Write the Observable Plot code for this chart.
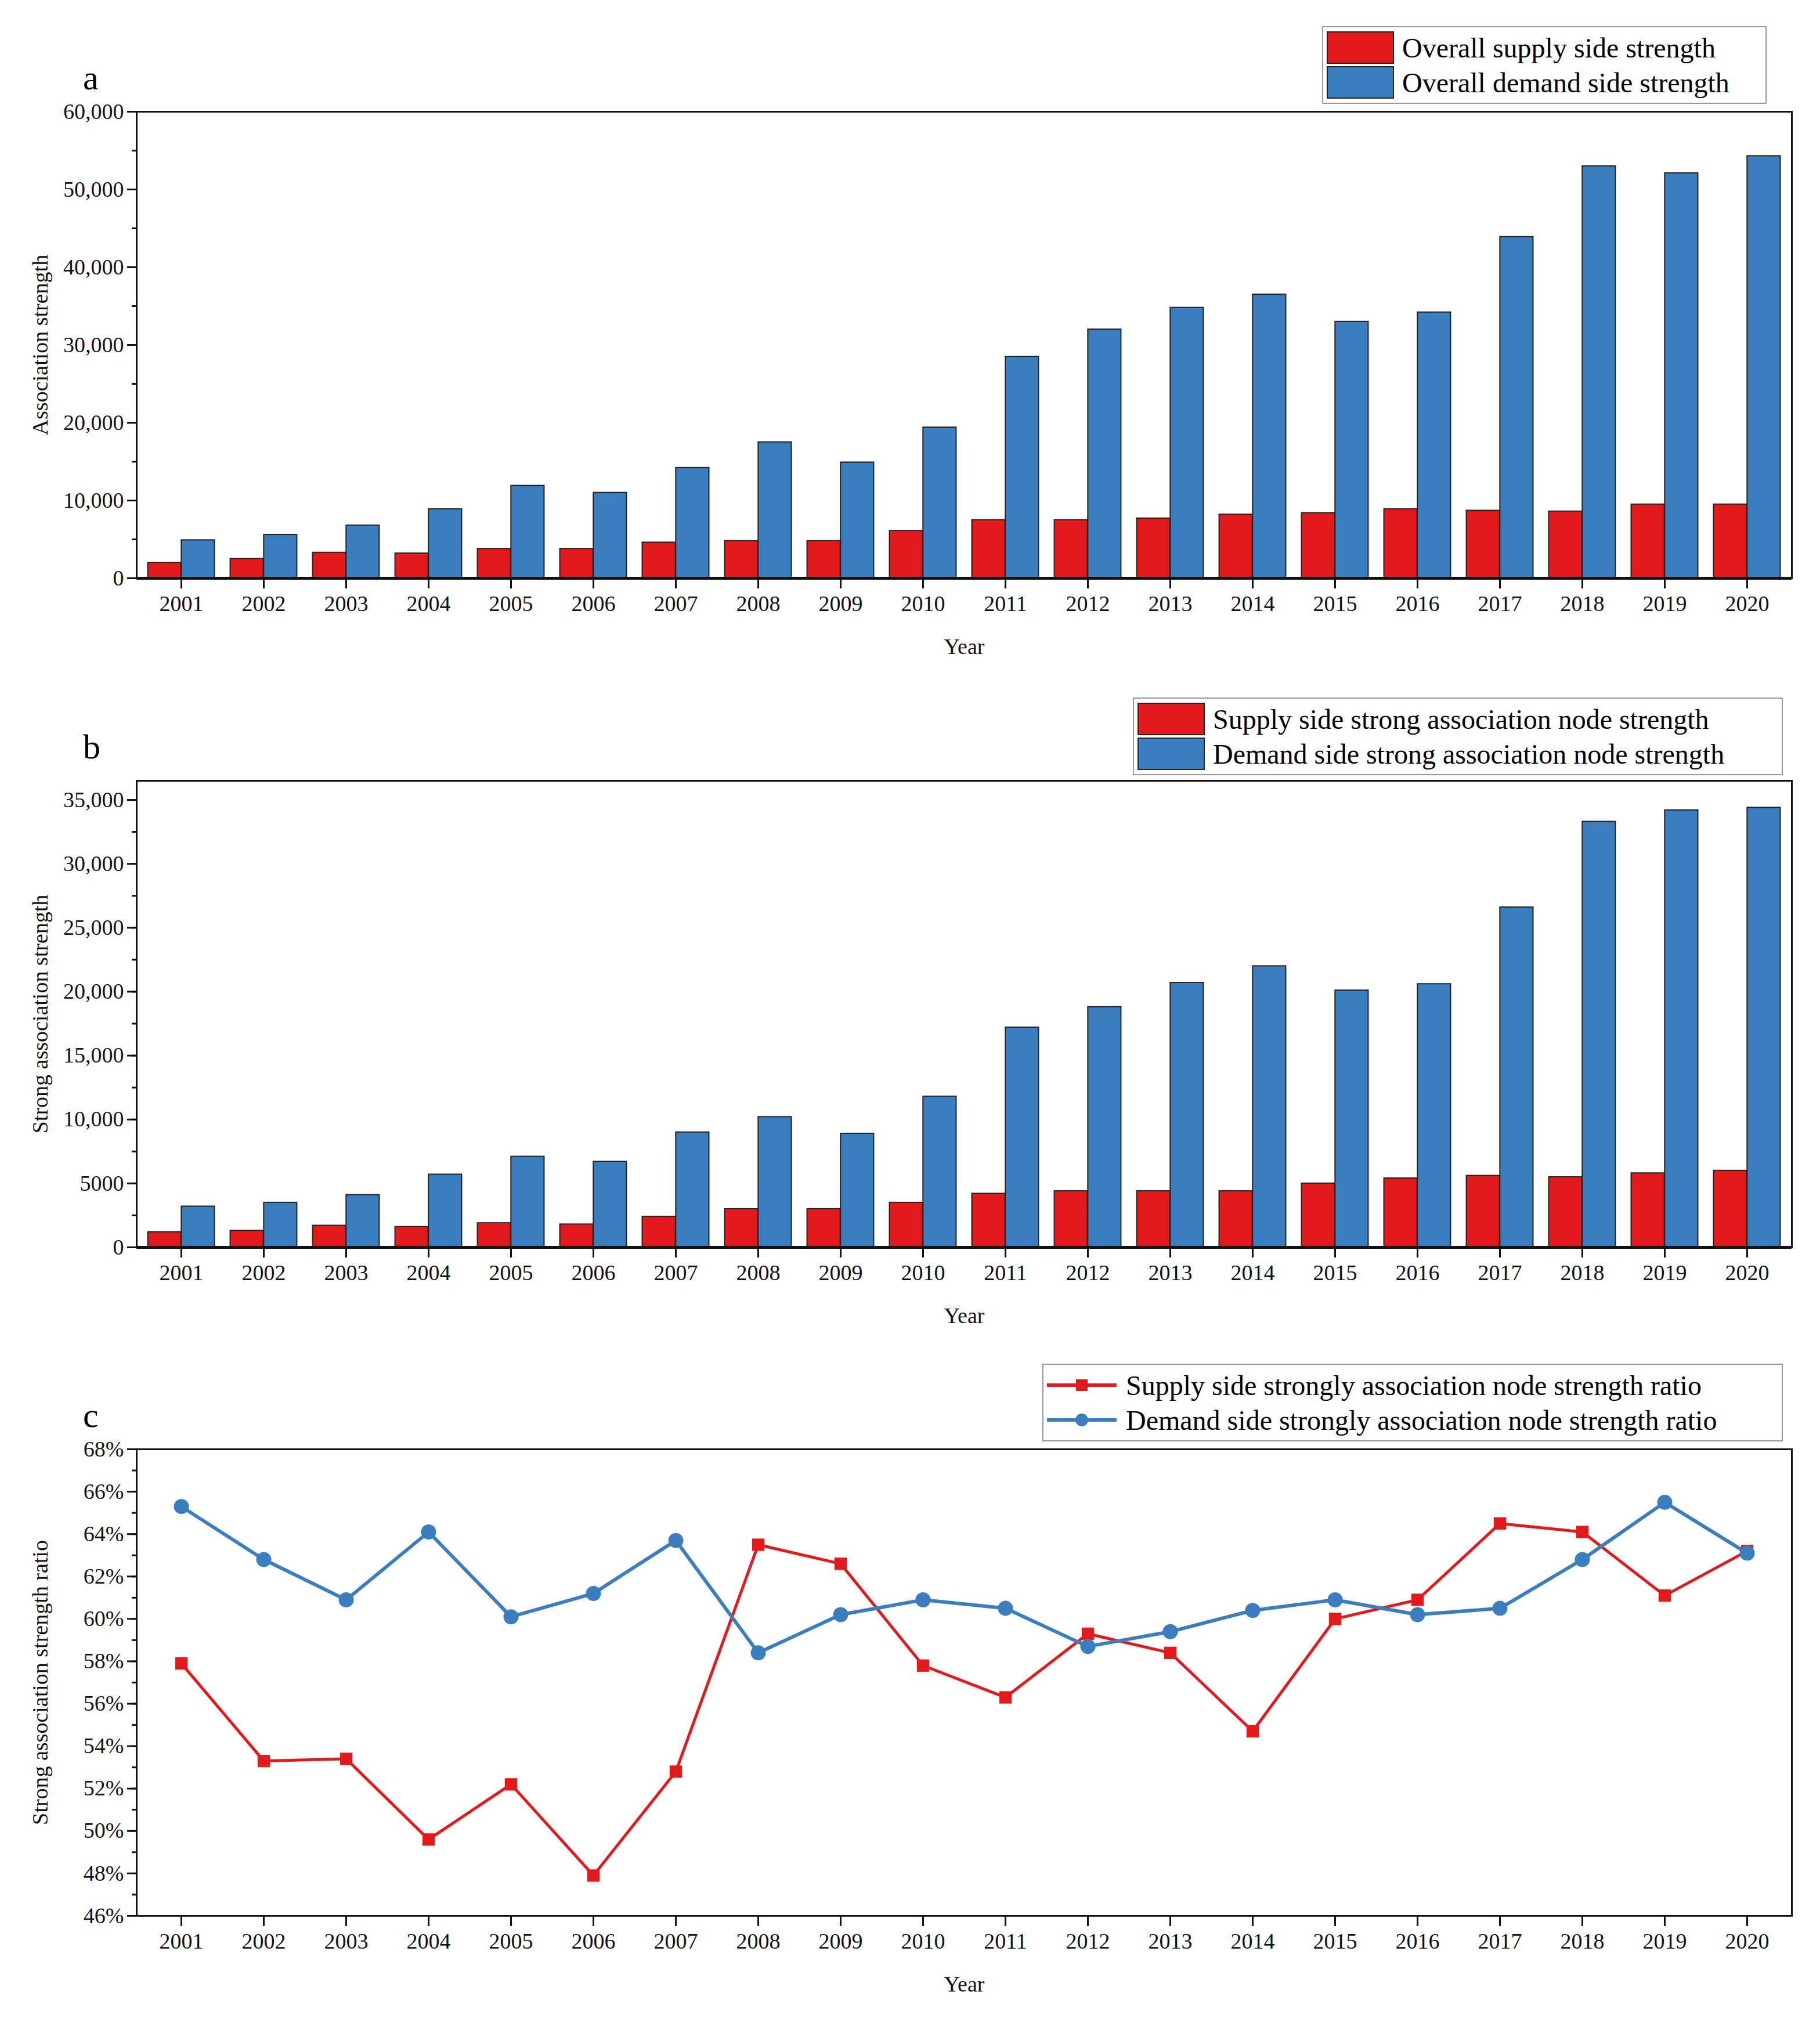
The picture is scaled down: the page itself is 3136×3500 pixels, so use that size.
<!DOCTYPE html>
<html><head><meta charset="utf-8">
<script src="https://cdn.jsdelivr.net/npm/d3@7"></script>
<script src="https://cdn.jsdelivr.net/npm/@observablehq/plot@0.6"></script>
<style>
body{margin:0;background:#fff;font-family:"Liberation Serif",serif;}
#page{position:relative;width:3136px;height:3500px;background:#fff;}
.panel{position:absolute;left:0;}
.plab{position:absolute;font-size:60px;}
.legend{position:absolute;border:2px solid #999;background:#fff;font-size:48px;padding:4px 6px;box-sizing:border-box;}
.row{display:flex;align-items:center;height:58px;margin:2px 0;}
.sw{width:116px;height:56px;border:2px solid #222;box-sizing:border-box;margin-right:14px;}
.ln{width:120px;height:40px;margin-right:16px;}
</style></head><body><div id="page"></div>
<script>
const years = ["2001","2002","2003","2004","2005","2006","2007","2008","2009","2010","2011","2012","2013","2014","2015","2016","2017","2018","2019","2020"];
const supplyA = [2000,2500,3300,3200,3800,3800,4600,4800,4800,6100,7500,7500,7700,8200,8400,8900,8700,8600,9500,9500];
const demandA = [4900,5600,6800,8900,11900,11000,14200,17500,14900,19400,28500,32000,34800,36500,33000,34200,43900,53000,52100,54300];
const supplyB = [1200,1300,1700,1600,1900,1800,2400,3000,3000,3500,4200,4400,4400,4400,5000,5400,5600,5500,5800,6000];
const demandB = [3200,3500,4100,5700,7100,6700,9000,10200,8900,11800,17200,18800,20700,22000,20100,20600,26600,33300,34200,34400];
const supplyC = [57.9,53.3,53.4,49.6,52.2,47.9,52.8,63.5,62.6,57.8,56.3,59.3,58.4,54.7,60.0,60.9,64.5,64.1,61.1,63.2];
const demandC = [65.3,62.8,60.9,64.1,60.1,61.2,63.7,58.4,60.2,60.9,60.5,58.7,59.4,60.4,60.9,60.2,60.5,62.8,65.5,63.1];
const legendA = ["Overall supply side strength","Overall demand side strength"];
const legendB = ["Supply side strong association node strength","Demand side strong association node strength"];
const legendC = ["Supply side strongly association node strength ratio","Demand side strongly association node strength ratio"];

const RED="#e31a1c", BLUE="#3a7ebf";
const page=document.getElementById("page");
const W=3136,H=1150,ML=235,MR=49,MT=192,MB=154;
const bw=(W-ML-MR)/years.length;

function common(yDomain,yMajor,yMinor,fmt,label){
  return {
    width:W,height:H,marginLeft:ML,marginRight:MR,marginTop:MT,marginBottom:MB,
    style:{fontFamily:"Liberation Serif, serif",fontSize:"38px",background:"#fff",color:"#111"},
    x:{type:"band",domain:years,padding:0},
    y:{domain:yDomain},
    marks0:[
      Plot.axisY({ticks:yMinor,tickSize:8,tickFormat:()=>"",strokeWidth:3,label:null}),
      Plot.axisY({ticks:yMajor,tickSize:16,tickFormat:fmt,strokeWidth:3,tickPadding:6,fontSize:38,
        label,labelAnchor:"center",labelArrow:"none",labelOffset:180}),
      Plot.axisX({tickSize:18,strokeWidth:3,tickPadding:12,fontSize:38,label:"Year",labelAnchor:"center",labelArrow:"none",labelOffset:130}),
    ]
  };
}
function place(svg,top){svg.classList.add("panel");svg.style.top=top+"px";page.appendChild(svg);}

function barPanel(top,sup,dem,yDomain,yMajor,yMinor,fmt,label){
  const c=common(yDomain,yMajor,yMinor,fmt,label);
  const dS=years.map((y,i)=>({year:y,v:sup[i]})), dD=years.map((y,i)=>({year:y,v:dem[i]}));
  const half=bw/2, gw=bw*0.405;
  const p=Plot.plot({...c,marks:[
    Plot.barY(dS,{x:"year",y:"v",fill:RED,stroke:"#222",strokeWidth:2,insetLeft:half-gw,insetRight:half}),
    Plot.barY(dD,{x:"year",y:"v",fill:BLUE,stroke:"#222",strokeWidth:2,insetLeft:half,insetRight:half-gw}),
    ...c.marks0,
    Plot.frame({stroke:"#111",strokeWidth:3}),
    Plot.ruleY([yDomain[0]],{stroke:"#111",strokeWidth:5})
  ]});
  place(p,top);
}
const fmtA=d3.format(",");
barPanel(0,supplyA,demandA,[0,60000],d3.range(0,60001,10000),d3.range(0,60001,5000),fmtA,"Association strength");
barPanel(1153,supplyB,demandB,[0,36500],d3.range(0,35001,5000),d3.range(0,35001,2500),d=>d<10000?String(d):fmtA(d),"Strong association strength");

{
  const c=common([46,68],d3.range(46,68.01,2),d3.range(46,68.01,1),d=>d+"%","Strong association strength ratio");
  const dS=years.map((y,i)=>({year:y,v:supplyC[i]})), dD=years.map((y,i)=>({year:y,v:demandC[i]}));
  const p=Plot.plot({...c,marks:[
    ...c.marks0,
    Plot.lineY(dS,{x:"year",y:"v",stroke:RED,strokeWidth:5}),
    Plot.lineY(dD,{x:"year",y:"v",stroke:BLUE,strokeWidth:6}),
    Plot.dot(dS,{x:"year",y:"v",symbol:"square",r:12,fill:RED}),
    Plot.dot(dD,{x:"year",y:"v",symbol:"circle",r:13,fill:BLUE}),
    Plot.frame({stroke:"#111",strokeWidth:3})
  ]});
  place(p,2305);
}

function lab(t,x,y){const d=document.createElement("div");d.className="plab";d.textContent=t;d.style.left=x+"px";d.style.top=y+"px";page.appendChild(d);}
lab("a",143,100);lab("b",143,1253);lab("c",143,2405);

function legend(items,left,top,width,lines){
  const L=document.createElement("div");L.className="legend";L.style.left=left+"px";L.style.top=top+"px";L.style.width=width+"px";
  items.forEach((t,i)=>{
    const r=document.createElement("div");r.className="row";
    const col=i===0?RED:BLUE;
    if(!lines){r.innerHTML=`<div class="sw" style="background:${col}"></div><span>${t}</span>`;}
    else{
      const m=i===0?`<rect x="50" y="10" width="20" height="20" fill="${col}"/>`:`<circle cx="60" cy="20" r="11" fill="${col}"/>`;
      r.innerHTML=`<svg class="ln" viewBox="0 0 120 40"><line x1="0" y1="20" x2="120" y2="20" stroke="${col}" stroke-width="6"/>${m}</svg><span>${t}</span>`;
    }
    L.appendChild(r);
  });
  page.appendChild(L);
}
legend(legendA,2278,45,766,false);
legend(legendB,1952,1202,1120,false);
legend(legendC,1796,2350,1276,true);
</script></body></html>
